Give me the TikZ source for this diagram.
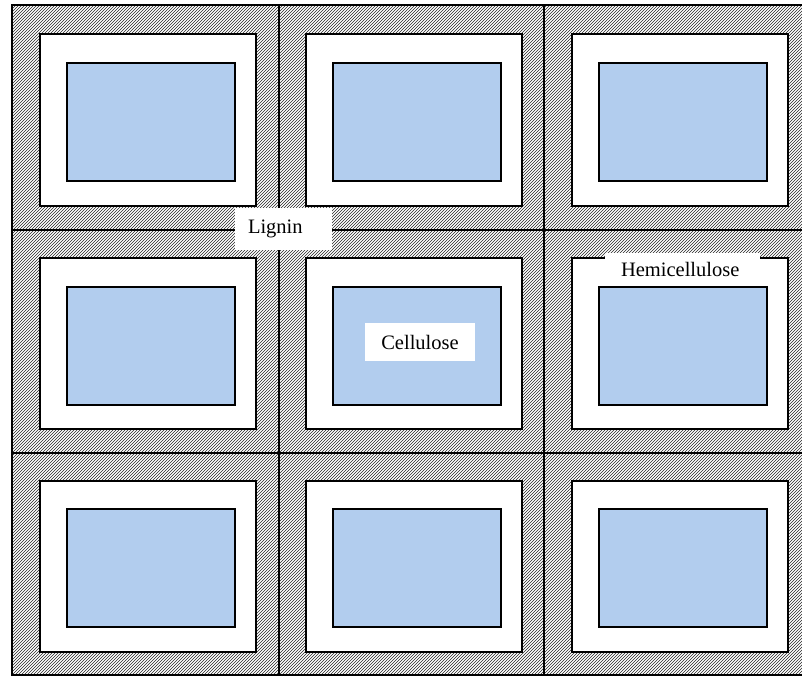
\documentclass[tikz,border=0pt]{standalone}
\usepackage{fontspec}
\setmainfont{Liberation Serif}
\definecolor{cellblue}{RGB}{178,205,238}
\begin{document}
\begin{tikzpicture}[x=1pt,y=-1pt,
  cellbox/.style={draw=black,line width=2pt,fill=white,minimum width=216pt,minimum height=171pt,inner sep=0pt},
  corebox/.style={draw=black,line width=2pt,fill=cellblue,minimum width=168pt,minimum height=118pt,inner sep=0pt},
  tag/.style={fill=white,inner sep=0pt,font=\fontsize{20.5}{24}\selectfont},
  hatchline/.style={line width=0.6pt,black!85}]
\useasboundingbox (0,0) rectangle (802,677);
\begin{scope}
  \clip (12,5) rectangle (802,675);
  \foreach \x in {-670,-667,...,812}{
    \draw[hatchline] (\x,676) -- ++(672,-672);
  }
\end{scope}
\begin{scope}
  \clip (0,0) rectangle (802,677);
  \draw[line width=1.5pt] (12,5) rectangle (812,675);
  \draw[line width=1.2pt] (279,5) -- (279,675) (544,5) -- (544,675)
        (12,230) -- (812,230) (12,453) -- (812,453);
\end{scope}
% cells
\foreach \cx/\bx/\i in {148/151/1, 414/416.5/2, 680/682.5/3}{
  \foreach \cy/\by/\j in {120/122/1, 343.5/345.5/2, 566.5/568/3}{
    \node[cellbox] (cell-\i-\j) at (\cx,\cy) {};
    \node[corebox] (core-\i-\j) at (\bx,\by) {};
  }
}
% labels
\node[tag,minimum width=97pt,minimum height=42pt,text width=71pt,inner xsep=13pt,align=left] (lignin) at (283.5,229) {Lignin};
\node[tag,minimum width=110pt,minimum height=38pt] (cellulose) at (420,342) {Cellulose};
\node[tag,minimum width=155pt,minimum height=33pt,text width=123pt,inner xsep=16pt,align=left] (hemi) at (682.5,269.5) {Hemicellulose};
\end{tikzpicture}
\end{document}
